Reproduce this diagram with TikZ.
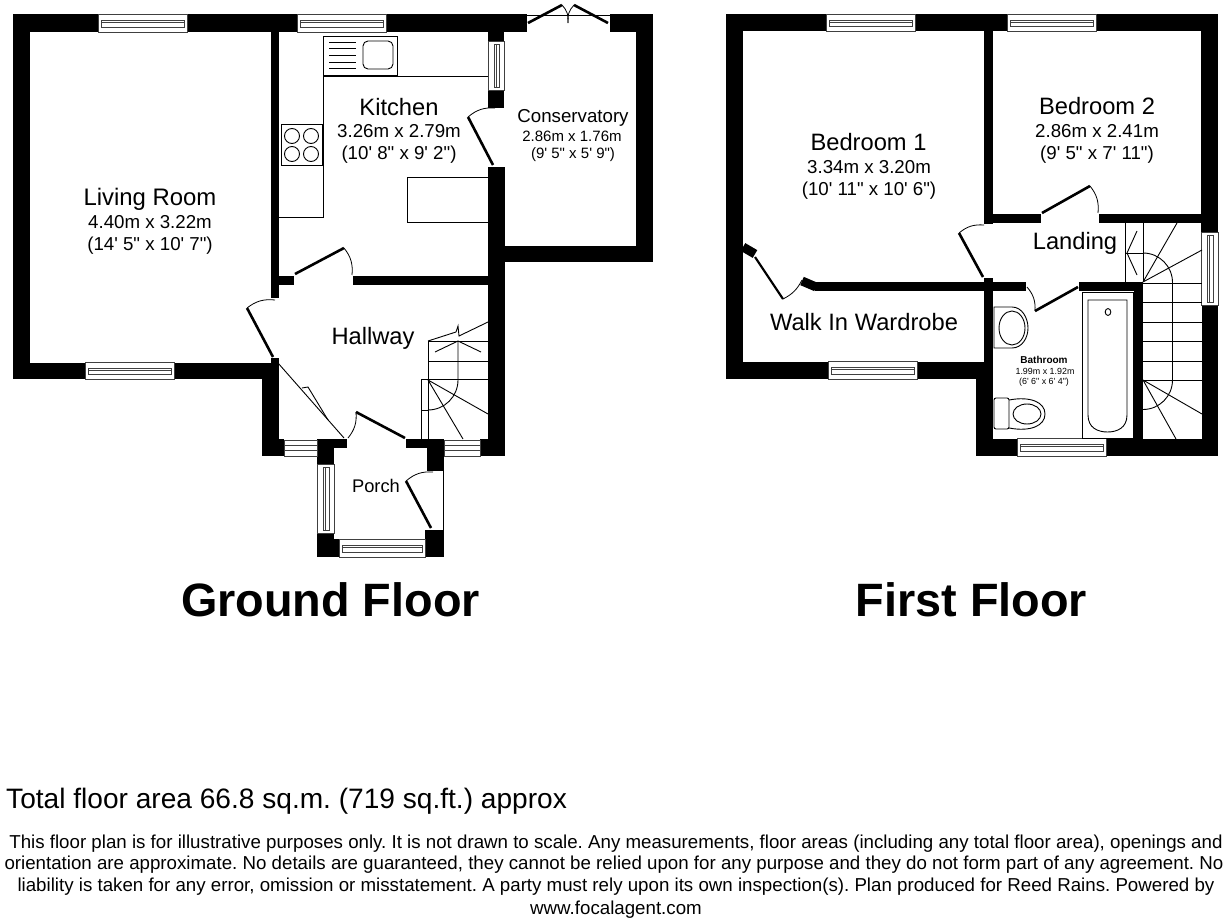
\documentclass[tikz,border=0pt]{standalone}
\usepackage{fontspec}
\setmainfont[Ligatures=TeXOff]{Liberation Sans}
\newcommand\fsz[1]{\fontsize{#1}{#1}\selectfont}
\newcommand\wl[4]{\fill[wallfill] (#1,#2) rectangle (#3,#4);}
\newcommand\hwin[4]{\draw[winline,fill=white] (#1,#2) rectangle (#3,#4);
  \draw[winline] (#1+3,#2+6) rectangle (#3-3,#4-5); \draw[winline] (#1+3,#2+8.5) -- (#3-3,#2+8.5);}
\newcommand\vwin[4]{\draw[winline,fill=white] (#1,#2) rectangle (#3,#4);
  \draw[winline] (#1+6,#2+3) rectangle (#3-5,#4-3); \draw[winline] (#1+8.5,#2+3) -- (#1+8.5,#4-3);}
\newcommand\door[6]{\draw[doorleaf] (#1,#2) -- (#3,#4); \draw[thin line] (#3,#4) to[bend left=22] (#5,#6);}
\newcommand\doorR[6]{\draw[doorleaf] (#1,#2) -- (#3,#4); \draw[thin line] (#3,#4) to[bend right=22] (#5,#6);}
\tikzset{x=1pt,y=-1pt,
 wallfill/.style={fill=black},
 winline/.style={draw=black!75,line width=0.7pt},
 doorleaf/.style={line width=2.6pt,black},
 thin line/.style={line width=0.8pt,black},
 fitline/.style={line width=0.9pt,black},
 lbl/.style={inner sep=0pt,align=center,text=black,font=\frenchspacing}}
\begin{document}
\begin{tikzpicture}
\useasboundingbox[fill=white] (0,0) rectangle (1232,920);
% ---- Ground floor walls
\wl{13}{14}{527}{32}
\wl{610}{14}{653}{32}
\wl{13}{14}{30}{379}
\wl{13}{363}{262}{379}
\wl{271}{32}{279}{298}
\wl{262}{363}{279}{456}
\wl{271}{358}{279}{363}
\wl{636}{14}{653}{262}
\wl{488}{246}{653}{262}
\wl{488}{32}{504}{41}
\wl{488}{90}{504}{108}
\wl{488}{167}{505}{456}
\wl{279}{276}{294}{285}
\wl{353}{276}{488}{285}
\wl{262}{439}{284}{456}
\wl{317}{439}{334}{464}
\wl{317}{439}{347}{448}
\wl{406}{439}{427}{448}
\wl{427}{439}{444}{471}
\wl{480}{439}{505}{456}
\wl{317}{533}{334}{557}
\wl{334}{539}{339}{557}
\wl{425}{530}{444}{557}
\draw[fitline] (443.5,471) -- (443.5,530);
% windows ground
\hwin{98}{14}{187}{32}
\hwin{297}{14}{386}{32}
\hwin{85}{362}{174}{379}
\vwin{488}{41}{504}{90}
\vwin{317}{464}{334}{533}
\hwin{339}{539}{425}{557}
\foreach \a/\b in {284/317,444/480}{
 \draw[winline,fill=white] (\a,440) rectangle (\b,456);
 \draw[winline] (\a,445) -- (\b,445) (\a,450) -- (\b,450);}
% french doors
\draw[thin line] (527,15) -- (610,15);
\draw[doorleaf] (528,23) -- (562,5);
\draw[doorleaf] (608,23) -- (574,5);
\draw[thin line] (562,5) to[bend left=25] (568,23);
\draw[thin line] (574,5) to[bend right=25] (568,23);
% doors ground
\door{493}{165}{468}{117}{495}{108}
\door{295}{274}{344}{248}{352}{275}
\door{273}{357}{247}{308}{275}{300}
\door{405}{438}{356}{412}{348}{438}
\door{431}{528}{406}{481}{433}{472}
% kitchen fittings
\draw[fitline] (323,76) -- (488,76) (323,76) -- (323,217) -- (279,217);
\draw[fitline,fill=white] (323,36) rectangle (397,75);
\foreach \y in {42,48,55,62,68} \draw[fitline] (329,\y) -- (356,\y);
\draw[fitline,rounded corners=5pt] (363,41) rectangle (393,69);
\draw[fitline] (281,124) rectangle (322,165);
\foreach \p in {(292,136),(311,136),(292,154),(311,154)} \draw[fitline] \p circle (7.5);
\draw[fitline] (488,177) -- (407,177) -- (407,222) -- (488,222);
% understairs
\draw[fitline] (278,363) -- (344,438);
\draw[fitline] (302,388) -- (308,387) -- (328,420);
% ground stairs
\draw[fitline] (428,341) -- (488,341) (428,361) -- (488,361) (421,379) -- (488,379);
\draw[fitline] (428,341) -- (428,439) (421,379) -- (421,439) (421,410) -- (428,410);
\draw[fitline] (458,341) -- (458,380) arc[start angle=0,end angle=90,radius=30];
\draw[fitline] (428,380) -- (488,414) (428,380) -- (463,439);
\draw[fitline] (428,341) -- (456,332) -- (458,326) -- (459,336) -- (488,322);
\draw[fitline] (435,352) -- (458,341) -- (481,352);
% ---- First floor walls
\wl{726}{14}{1218}{31}
\wl{726}{14}{743}{379}
\wl{726}{362}{985}{379}
\wl{984}{31}{993}{224}
\wl{993}{214}{1041}{223}
\wl{1099}{214}{1202}{223}
\wl{1201}{14}{1218}{232}
\wl{1202}{305}{1218}{456}
\wl{984}{278}{993}{362}
\wl{976}{362}{993}{456}
\wl{976}{439}{1218}{456}
\wl{815}{282}{1026}{291}
\wl{1079}{282}{1143}{291}
\wl{1134}{291}{1143}{439}
\draw[line width=9pt,black] (743,247) -- (755,254);
\draw[line width=9pt,black] (802,281) -- (816,287);
\hwin{826}{14}{915}{31}
\hwin{1007}{14}{1096}{31}
\hwin{828}{361}{917}{379}
\hwin{1017}{438}{1106}{456}
\vwin{1201}{232}{1218}{305}
\door{983}{277}{959}{233}{984}{225}
\door{1042}{213}{1090}{186}{1098}{213}
\doorR{1078}{287}{1035}{311}{1027}{287}
\draw[line width=2.2pt] (755,257) -- (783,299);
\draw[thin line] (783,299) to[bend right=18] (802,280);
% bath
\draw[fitline] (1082,292) rectangle (1133,438);
\draw[fitline] (1088,300) -- (1127,300) -- (1127,415) .. controls (1127,428) and (1117,432) .. (1107.5,432) .. controls (1098,432) and (1088,428) .. (1088,415) -- cycle;
\draw[fitline] (1108,312) ellipse (2.8 and 3.4);
% basin
\draw[fitline] (994,307) -- (1012,307) .. controls (1022,307) and (1028,318) .. (1028,328) .. controls (1028,338) and (1022,348) .. (1012,348) -- (994,348) -- cycle;
\draw[fitline] (1012,328) ellipse (13 and 17);
% wc
\draw[fitline,rounded corners=2pt] (994,398) rectangle (1009,429);
\draw[fitline] (1009,400) .. controls (1030,396) and (1045,402) .. (1045,414) .. controls (1045,426) and (1030,432) .. (1009,428);
\draw[fitline] (1027,414) ellipse (14 and 10);
% first stairs
\draw[fitline] (1125,223) -- (1125,282) (1143,223) -- (1143,282) (1125,253) -- (1143,253);
\draw[fitline] (1127,253) -- (1137,231) (1127,253) -- (1137,275);
\foreach \y in {283,302,322,341,361,380} \draw[fitline] (1143,\y) -- (1202,\y);
\draw[fitline] (1143,253) arc[start angle=-90,end angle=0,radius=29.5] -- (1172.5,380) arc[start angle=0,end angle=90,radius=29.5];
\draw[fitline] (1143,282) -- (1177,223) (1143,282) -- (1202,250) (1143,380) -- (1202,414) (1143,380) -- (1176,439);
% ---- Labels
\node[lbl] (t1) at (150,199) {\fsz{23.9}Living Room};
\node[lbl] (t2) at (150,222) {\fsz{18.7}4.40m x 3.22m};
\node[lbl] (t3) at (150,246) {\fsz{18.7}(14' 5" x 10' 7")};
\node[lbl] (t4) at (399,107) {\fsz{23.7}Kitchen};
\node[lbl] (t5) at (399,131) {\fsz{18.7}3.26m x 2.79m};
\node[lbl] (t6) at (399,155) {\fsz{18.7}(10' 8" x 9' 2")};
\node[lbl] (t7) at (573,118) {\fsz{18.7}Conservatory};
\node[lbl] (t8) at (572,136) {\fsz{15}2.86m x 1.76m};
\node[lbl] (t9) at (573,155) {\fsz{15}(9' 5" x 5' 9")};
\node[lbl] (t10) at (373,338) {\fsz{23.7}Hallway};
\node[lbl] (t11) at (376,486) {\fsz{18.3}Porch};
\node[lbl] (t12) at (868.5,142) {\fsz{23.7}Bedroom 1};
\node[lbl] (t13) at (869,167) {\fsz{18.7}3.34m x 3.20m};
\node[lbl] (t14) at (869,191) {\fsz{18.7}(10' 11" x 10' 6")};
\node[lbl] (t15) at (1097,106) {\fsz{23.7}Bedroom 2};
\node[lbl] (t16) at (1097,131) {\fsz{18.7}2.86m x 2.41m};
\node[lbl] (t17) at (1097,155) {\fsz{18.7}(9' 5" x 7' 11")};
\node[lbl] (t18) at (1075,243) {\fsz{23.7}Landing};
\node[lbl] (t19) at (864,322) {\fsz{23.7}Walk In Wardrobe};
\node[lbl] (t20) at (1044,360) {\fsz{10}\bfseries Bathroom};
\node[lbl] (t21) at (1045,371) {\fsz{8.9}1.99m x 1.92m};
\node[lbl] (t22) at (1044,382) {\fsz{8.9}(6' 6" x 6' 4")};
\node[lbl] (t23) at (330.5,600) {\fsz{46.8}\bfseries Ground Floor};
\node[lbl] (t24) at (971.5,600) {\fsz{46.8}\bfseries First Floor};
\node[lbl,anchor=west] (t25) at (6,801) {\fsz{28.1}Total floor area 66.8 sq.m. (719 sq.ft.) approx};
\node[lbl] (d1) at (616,844) {\fsz{18.71}This floor plan is for illustrative purposes only. It is not drawn to scale. Any measurements, floor areas (including any total floor area), openings and};
\node[lbl] (d2) at (614,865) {\fsz{18.71}orientation are approximate. No details are guaranteed, they cannot be relied upon for any purpose and they do not form part of any agreement. No};
\node[lbl] (d3) at (616,887) {\fsz{18.71}liability is taken for any error, omission or misstatement. A party must rely upon its own inspection(s). Plan produced for Reed Rains. Powered by};
\node[lbl] (d4) at (616,910) {\fsz{18.71}www.focalagent.com};
\end{tikzpicture}
\end{document}
